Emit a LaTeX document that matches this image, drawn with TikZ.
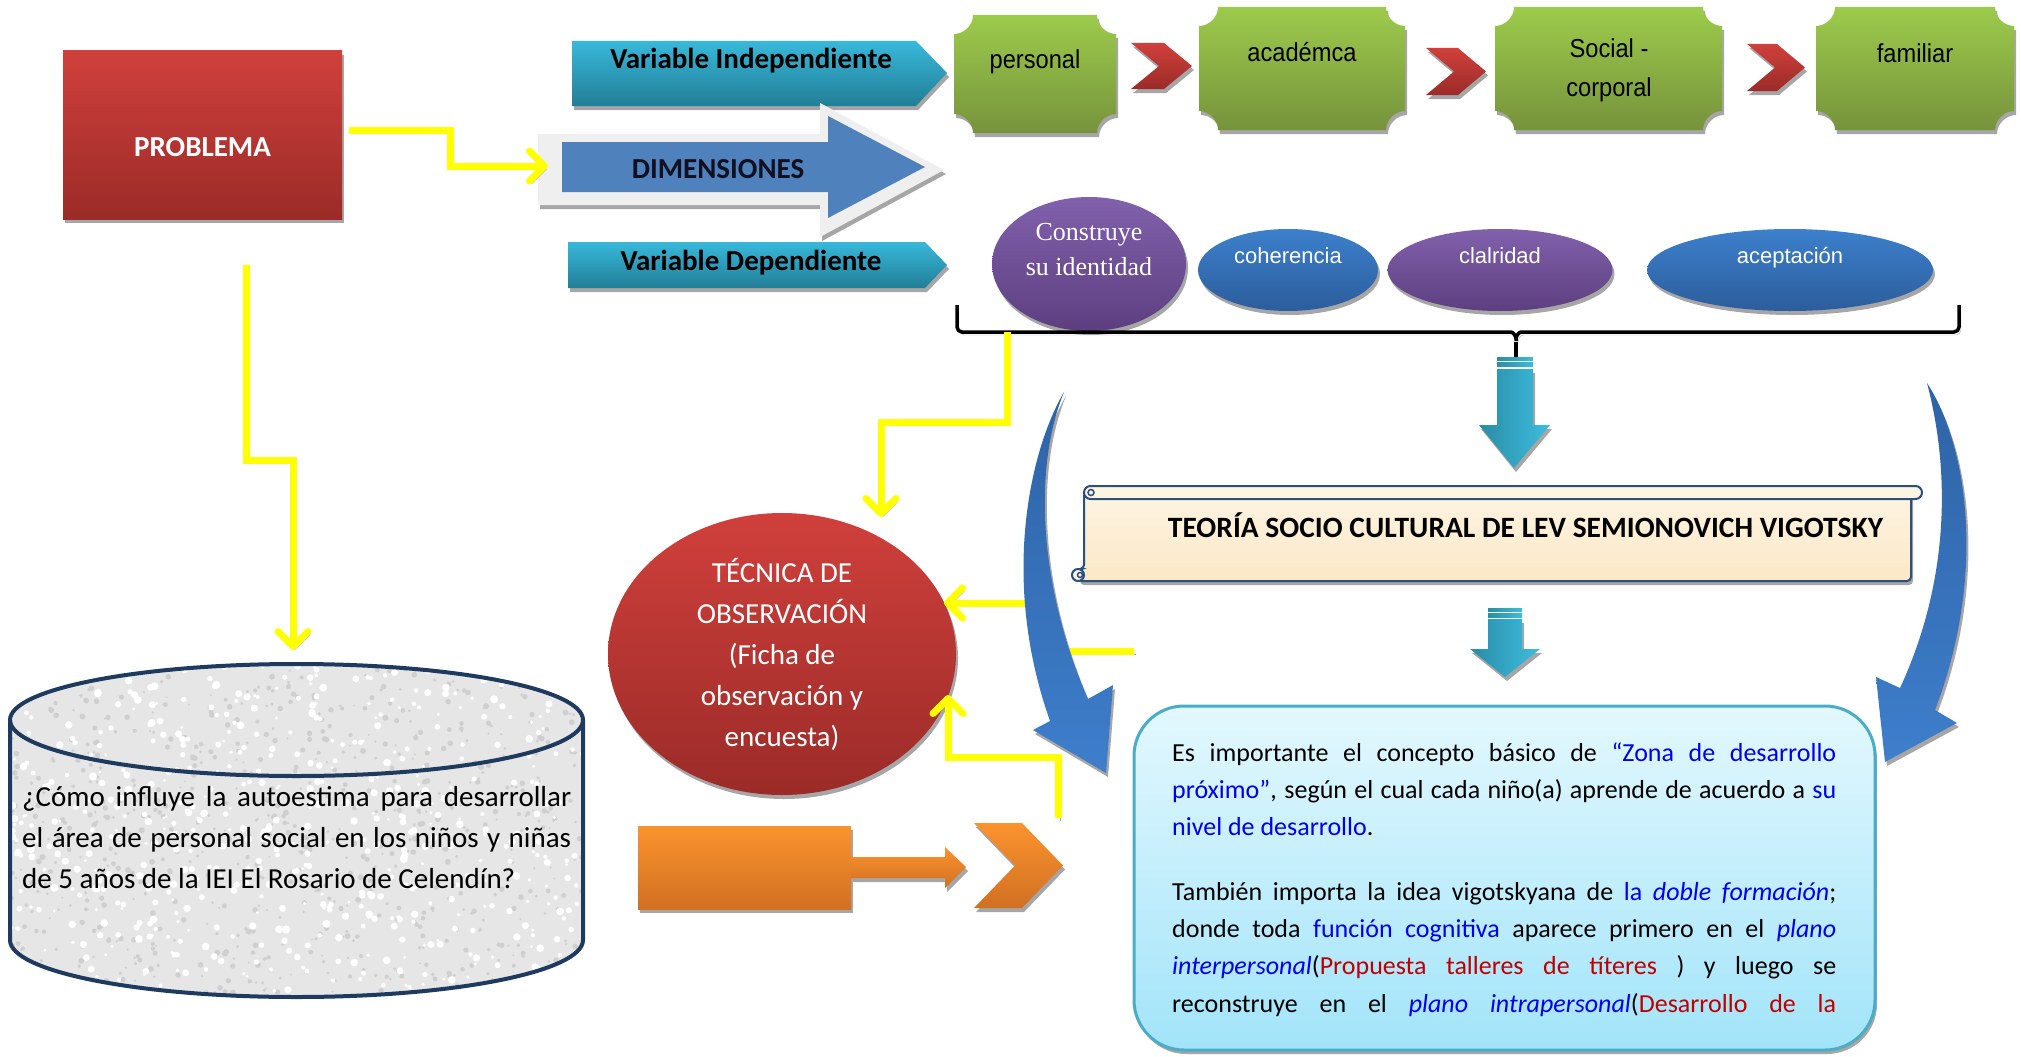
\documentclass[tikz,border=0pt]{standalone}
\usepackage{fontspec}
\setmainfont{Carlito}
\newfontfamily\narrowsans[FakeStretch=0.91]{Liberation Sans}
\newfontfamily\plainsans{Liberation Sans}
\newfontfamily\timesfam{Liberation Serif}
\usetikzlibrary{arrows.meta,shadows,shapes.geometric}
\definecolor{redT}{HTML}{D0403C}
\definecolor{redB}{HTML}{9B2B28}
\definecolor{tealT}{HTML}{38B8DA}
\definecolor{tealB}{HTML}{227E97}
\definecolor{tealL}{HTML}{2A8CA6}
\definecolor{tealR}{HTML}{3DBDDF}
\definecolor{greenT}{HTML}{9DCB4C}
\definecolor{greenB}{HTML}{76933C}
\definecolor{purT}{HTML}{8161AC}
\definecolor{purB}{HTML}{5D3F80}
\definecolor{bluT}{HTML}{3D80CC}
\definecolor{bluB}{HTML}{2C5D9C}
\definecolor{dimblue}{HTML}{4F81BD}
\definecolor{dimframe}{HTML}{EFEFEF}
\definecolor{dimtext}{HTML}{101020}
\definecolor{arcT}{HTML}{2E63A6}
\definecolor{arcB}{HTML}{3E7ECB}
\definecolor{oraT}{HTML}{FB932E}
\definecolor{oraB}{HTML}{D07022}
\definecolor{ylw}{HTML}{FFFF00}
\definecolor{shadowgray}{HTML}{A6A6A6}
\definecolor{navy}{HTML}{1F3A5F}
\definecolor{granite}{HTML}{E6E6E6}
\definecolor{speckD}{HTML}{CFCFCF}
\definecolor{creamT}{HTML}{FEF4E2}
\definecolor{creamB}{HTML}{FBE8C6}
\definecolor{scrollline}{HTML}{2B4F7E}
\definecolor{boxT}{HTML}{E3F8FE}
\definecolor{boxB}{HTML}{A2E4FA}
\definecolor{boxline}{HTML}{4BACC6}
\definecolor{tblue}{HTML}{0000EE}
\definecolor{tred}{HTML}{C00000}
\newcommand\txb[1]{\textcolor{tblue}{#1}}
\newcommand\txr[1]{\textcolor{tred}{#1}}
\newcommand\plaquepath[4]{(#1+19,#2) -- (#3-19,#2) .. controls (#3-19,#2+10) and (#3-10,#2+19) .. (#3,#2+19) -- (#3,#4-19) .. controls (#3-10,#4-19) and (#3-19,#4-10) .. (#3-19,#4) -- (#1+19,#4) .. controls (#1+19,#4-10) and (#1+10,#4-19) .. (#1,#4-19) -- (#1,#2+19) .. controls (#1+10,#2+19) and (#1+19,#2+10) .. (#1+19,#2) -- cycle}
\newcommand\chevpath[5]{(#1,#2) -- (#3-#5,#2) -- (#3,#2/2+#4/2) -- (#3-#5,#4) -- (#1,#4) -- (#1+#5,#2/2+#4/2) -- cycle}
\begin{document}
\begin{tikzpicture}[x=1pt,y=-1pt,
  shad/.style={drop shadow={shadow xshift=2pt,shadow yshift=-4pt,fill=shadowgray,opacity=1}},
  lshad/.style={preaction={draw=shadowgray,transform canvas={xshift=2pt,yshift=-3pt}}},
  yl/.style={draw=ylw,line width=7pt,-{Straight Barb[length=15pt,width=30pt,round]},lshad},
  redfill/.style={top color=redT,bottom color=redB},
  tealfill/.style={top color=tealT,bottom color=tealB},
  tealside/.style={left color=tealL,right color=tealR},
  greenfill/.style={top color=greenT,bottom color=greenB},
  purfill/.style={top color=purT,bottom color=purB},
  blufill/.style={top color=bluT,bottom color=bluB},
  orafill/.style={top color=oraT,bottom color=oraB},
  txt/.style={inner sep=0pt},
  boldtxt/.style={txt,font=\fontsize{29}{35}\selectfont\bfseries},
  greentxt/.style={txt,font=\narrowsans\fontsize{26}{31}\selectfont},
  elltxt/.style={txt,text=white,font=\plainsans\fontsize{22}{26}\selectfont},
  boxtxt/.style={txt,anchor=base west,font=\fontsize{26}{37}\selectfont},
  cyltxt/.style={txt,anchor=base west,font=\fontsize{29}{41}\selectfont},
  brace/.style={draw=black,line width=3.5pt,rounded corners=5pt,lshad},
  ell/.style={ellipse,inner sep=0pt,shad}
]
\useasboundingbox (0,0) rectangle (2021,1057);

% ---------- cylinder ----------
\path[fill=granite] (10,720) -- (10,940) arc[start angle=180,end angle=0,x radius=286.5,y radius=57] -- (583,720) -- cycle;
\path[fill=granite] (296.5,720) ellipse[x radius=286.5,y radius=56];
\begin{scope}
  \clip (10,720) -- (10,940) arc[start angle=180,end angle=0,x radius=286.5,y radius=57] -- (583,720) arc[start angle=0,end angle=-180,x radius=286.5,y radius=56] -- cycle;
  \pgfmathsetseed{7}
  \foreach \i in {1,...,900}{
    \pgfmathsetmacro{\px}{10+573*rnd}
    \pgfmathsetmacro{\py}{664+390*rnd}
    \pgfmathsetmacro{\pr}{1+2*rnd}
    \fill[speckD] (\px,\py) circle[radius=\pr];
  }
  \foreach \i in {1,...,700}{
    \pgfmathsetmacro{\px}{10+573*rnd}
    \pgfmathsetmacro{\py}{664+390*rnd}
    \pgfmathsetmacro{\pr}{1.5+2.5*rnd}
    \fill[white] (\px,\py) circle[radius=\pr];
  }
\end{scope}
\path[draw=navy,line width=4pt] (10,720) -- (10,940) arc[start angle=180,end angle=0,x radius=286.5,y radius=57] -- (583,720);
\path[draw=navy,line width=4pt] (296.5,720) ellipse[x radius=286.5,y radius=56];
\node[cyltxt] (cyl1) at (22,806) {\makebox[549pt][s]{¿Cómo influye la autoestima para desarrollar}};
\node[cyltxt] (cyl2) at (22,847) {\makebox[549pt][s]{el área de personal social en los niños y niñas}};
\node[cyltxt] (cyl3) at (22,888) {de 5 años de la IEI El Rosario de Celendín?};

% ---------- PROBLEMA ----------
\node[shad,redfill,minimum width=279pt,minimum height=168pt,inner sep=0pt] (prob) at (202.5,135) {};
\node[boldtxt,text=white,anchor=base] (probt) at (202.5,156) {PROBLEMA};

% ---------- Variables and DIMENSIONES ----------
\path[shad,tealfill] (572,41) -- (916,41) -- (947,73) -- (916,106) -- (572,106) -- cycle;
\node[boldtxt,anchor=base] (vi) at (751,68) {Variable Independiente};
\path[shad,tealfill] (568,242) -- (925,242) -- (947,265) -- (925,288) -- (568,288) -- cycle;
\node[boldtxt,anchor=base] (vd) at (751,270) {Variable Dependiente};

\path[shad,fill=dimframe] (538,134) -- (820,134) -- (820,103) -- (944,170) -- (820,237) -- (820,205) -- (538,205) -- cycle;
\path[fill=dimblue] (562,142) -- (828,142) -- (828,116) -- (925,167) -- (828,218) -- (828,192) -- (562,192) -- cycle;
\node[boldtxt,text=dimtext,anchor=base] (dim) at (718,178) {DIMENSIONES};
\coordinate (dimin) at (548,166);

% ---------- green boxes ----------
\path[shad,greenfill] \plaquepath{954}{15}{1116}{133};
\path[shad,greenfill] \plaquepath{1199}{7}{1405}{130};
\path[shad,greenfill] \plaquepath{1495}{7}{1722}{130};
\path[shad,greenfill] \plaquepath{1816}{7}{2014}{130};
\node[greentxt,anchor=base] (tpers) at (1035,69) {personal};
\node[greentxt,anchor=base] (tacad) at (1302,62) {académca};
\node[greentxt,anchor=base] (tsoc1) at (1609,58) {Social -};
\node[greentxt,anchor=base] (tsoc2) at (1609,96) {corporal};
\node[greentxt,anchor=base] (tfam) at (1915,63) {familiar};
\path[shad,redfill] \chevpath{1131}{43}{1192}{89}{28};
\path[shad,redfill] \chevpath{1426}{48}{1486}{95}{28};
\path[shad,redfill] \chevpath{1747}{44}{1805}{91}{28};

% ---------- ellipses ----------
\node[ell,purfill,minimum width=194pt,minimum height=134pt] (econ) at (1089,264) {};
\node[txt,text=white,font=\timesfam\fontsize{26}{30}\selectfont,anchor=base] (tcon1) at (1089,240) {Construye};
\node[txt,text=white,font=\timesfam\fontsize{26}{30}\selectfont,anchor=base] (tcon2) at (1089,275) {su identidad};
\node[ell,blufill,minimum width=180pt,minimum height=82pt] (ecoh) at (1288,270) {};
\node[elltxt,anchor=base] (tcoh) at (1288,263) {coherencia};
\node[ell,purfill,minimum width=225pt,minimum height=82pt] (ecla) at (1500,270) {};
\node[elltxt,anchor=base] (tcla) at (1500,263) {clalridad};
\node[ell,blufill,minimum width=286pt,minimum height=82pt] (eace) at (1790,270) {};
\node[elltxt,anchor=base] (tace) at (1790,263) {aceptación};

% ---------- brace ----------
\draw[brace] (957,305) -- (957,332) -- (1506,332) .. controls (1513,332) and (1516,336) .. (1516,344) .. controls (1516,336) and (1519,332) .. (1526,332) -- (1959,332) -- (1959,305);
\draw[draw=black,line width=3.5pt] (1516,342) -- (1516,357);

% ---------- teal down arrows ----------
\path[tealside] (1497,357) rectangle (1533,360);
\path[tealside] (1497,362) rectangle (1533,366);
\path[shad,tealside] (1497,369) -- (1533,369) -- (1533,425) -- (1550,425) -- (1514,468) -- (1479,425) -- (1497,425) -- cycle;
\path[tealside] (1488,608) rectangle (1522,611);
\path[tealside] (1488,613) rectangle (1522,617);
\path[shad,tealside] (1488,619) -- (1522,619) -- (1522,649) -- (1540,649) -- (1505,677) -- (1470,649) -- (1488,649) -- cycle;

% ---------- scroll ----------
\path[shad,top color=creamT,bottom color=creamB,draw=scrollline,line width=2pt,rounded corners=4pt] (1084,492) -- (1911,492) -- (1911,581) -- (1078,581) -- (1078,569) -- (1084,569) -- cycle;
\path[fill=creamT,draw=scrollline,line width=2pt] (1078,575) circle[radius=6];
\path[draw=scrollline,line width=1.5pt] (1080,575) circle[radius=2.5];
\path[fill=creamT,draw=scrollline,line width=2pt,rounded corners=6.5pt] (1084,486) rectangle (1922,499);
\path[draw=scrollline,line width=1.5pt] (1091,492.5) circle[radius=3];
\node[txt,font=\fontsize{29.5}{34}\selectfont\bfseries,anchor=base] (teo) at (1525.5,537) {TEORÍA SOCIO CULTURAL DE LEV SEMIONOVICH VIGOTSKY};

% ---------- text box ----------
\node[shad,rectangle,rounded corners=50pt,top color=boxT,bottom color=boxB,draw=boxline,line width=3pt,minimum width=741pt,minimum height=344pt,inner sep=0pt] (tbox) at (1504.5,878) {};
\node[boxtxt] (tb1) at (1172,761) {\makebox[664pt][s]{Es importante el concepto básico de \txb{“Zona de desarrollo}}};
\node[boxtxt] (tb2) at (1172,798) {\makebox[664pt][s]{\txb{próximo”}, según el cual cada niño(a) aprende de acuerdo a \txb{su}}};
\node[boxtxt] (tb3) at (1172,835) {\txb{nivel de desarrollo}.};
\node[boxtxt] (tb4) at (1172,900) {\makebox[664pt][s]{También importa la idea vigotskyana de \txb{la \textit{doble formación}};}};
\node[boxtxt] (tb5) at (1172,937) {\makebox[664pt][s]{donde toda \txb{función cognitiva} aparece primero en el \txb{\textit{plano}}}};
\node[boxtxt] (tb6) at (1172,974) {\makebox[664pt][s]{\txb{\textit{interpersonal}}(\txr{Propuesta talleres de títeres} ) y luego se}};
\node[boxtxt] (tb7) at (1172,1012) {\makebox[664pt][s]{reconstruye en el \txb{\textit{plano intrapersonal}}(\txr{Desarrollo de la}}};

% ---------- TECNICA ----------
\node[ell,redfill,minimum width=348pt,minimum height=282pt,text=white,align=center,font=\fontsize{29}{41}\selectfont] (tec) at (782,654) {TÉCNICA DE\\OBSERVACIÓN\\(Ficha de\\observación y\\encuesta)};

% ---------- orange ----------
\node[shad,orafill,rectangle,minimum width=213pt,minimum height=83pt,inner sep=0pt] (orect) at (744.5,867.5) {};
\path[shad,orafill] (851,857) -- (945,857) -- (945,847) -- (966,867) -- (945,888) -- (945,878) -- (851,878) -- cycle;
\path[shad,orafill] \chevpath{974}{823}{1063}{908}{41};

% ---------- yellow connectors ----------
\coordinate (cyltop) at (293,650);
\coordinate (tectop) at (881,517);
\coordinate (tecright) at (944,603);
\coordinate (tecbot) at (948,695);
\coordinate (boxleft) at (1134,651);
\coordinate (lowstart) at (1058,818);
\draw[yl] ([xshift=7pt,yshift=5pt]prob.east) -- ++(101,0) |- (dimin);
\draw[yl] ([xshift=43.5pt,yshift=-46pt]prob.south) -- ++(0,195) -| (cyltop);
\draw[yl] (1007,332) -- (1007,422) -| (tectop);
\draw[yl] (boxleft) -- (1035,651) |- (tecright);
\draw[yl] (lowstart) -- (1058,757) -| (tecbot);

% ---------- blue curved arrows ----------
\path[shad,top color=arcT,bottom color=arcB] (1064,392) .. controls (1030,450) and (1000,580) .. (1050,721) -- (1033,730) -- (1106,773) -- (1113,685) -- (1088,699) .. controls (1040,590) and (1032,470) .. (1064,392) -- cycle;
\path[shad,top color=arcT,bottom color=arcB] (1927,383) .. controls (1970,450) and (1985,580) .. (1935,710) -- (1957,723) -- (1885,762) -- (1876,677) -- (1900,688) .. controls (1950,580) and (1950,470) .. (1927,383) -- cycle;
\end{tikzpicture}
\end{document}
